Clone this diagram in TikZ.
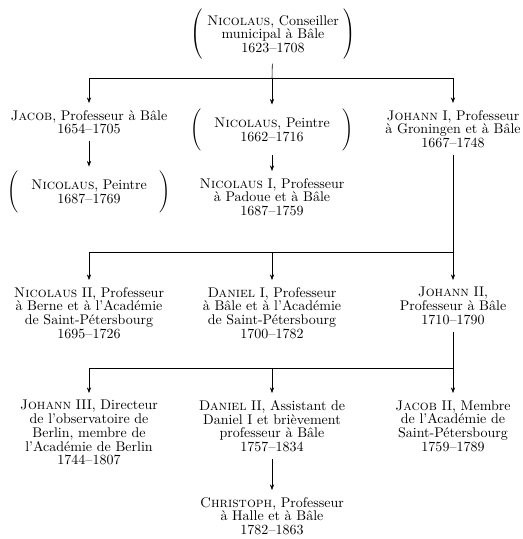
\documentclass[tikz,border=0pt]{standalone}
\usepackage{fontspec}
\usepackage{amsmath}
\usetikzlibrary{arrows.meta}
\newcommand{\enparen}[2]{$\left(\vcenter{\hbox{\rule{0pt}{#1}}}\begin{minipage}{100pt}\centering #2\end{minipage}\right)$}

\begin{document}
\begin{tikzpicture}[>={Stealth[length=4pt,width=3pt]}, x=0.714pt, y=-0.714pt]
\tikzstyle{p}=[align=center,anchor=north,inner xsep=2pt,inner ysep=5pt,font=\fontsize{10}{9.8}\selectfont]
\tikzstyle{pp}=[p,anchor=center,inner ysep=3pt]
\useasboundingbox (0,0) rectangle (522,539);
\node[pp] (nic)   at (273,34)  {\enparen{36pt}{\textsc{Nicolaus}, Conseiller\\ municipal à Bâle\\ 1623--1708}};
\node[p]  (jac)   at (89,103)  {\textsc{Jacob}, Professeur à Bâle\\ 1654--1705};
\node[pp] (nicp)  at (272,130) {\enparen{28pt}{\textsc{Nicolaus}, Peintre\\ 1662--1716}};
\node[p]  (joh)   at (453,103) {\textsc{Johann} I, Professeur\\ à Groningen et à Bâle\\ 1667--1748};
\node[pp] (nicpb) at (89,192)  {\enparen{28pt}{\textsc{Nicolaus}, Peintre\\ 1687--1769}};
\node[p]  (nicI)  at (272,171) {\textsc{Nicolaus} I, Professeur\\ à Padoue et à Bâle\\ 1687--1759};
\node[p]  (nicII) at (89,280)  {\textsc{Nicolaus} II, Professeur\\ à Berne et à l'Académie\\ de Saint-Pétersbourg\\ 1695--1726};
\node[p]  (danI)  at (272,280) {\textsc{Daniel} I, Professeur\\ à Bâle et à l'Académie\\ de Saint-Pétersbourg\\ 1700--1782};
\node[p]  (johII) at (453,280) {\textsc{Johann} II,\\ Professeur à Bâle\\ 1710--1790};
\node[p]  (johIII) at (89,393) {\textsc{Johann} III, Directeur\\ de l'observatoire de\\ Berlin, membre de\\ l'Académie de Berlin\\ 1744--1807};
\node[p]  (danII) at (272,393) {\textsc{Daniel} II, Assistant de\\ Daniel I et brièvement\\ professeur à Bâle\\ 1757--1834};
\node[p]  (jacII) at (453,393) {\textsc{Jacob} II, Membre\\ de l'Académie de\\ Saint-Pétersbourg\\ 1759--1789};
\node[p]  (chr)   at (272,490) {\textsc{Christoph}, Professeur\\ à Halle et à Bâle\\ 1782--1863};
\coordinate (b1) at (272,78);
\coordinate (b2) at (453,252);
\coordinate (b3) at (453,368);
\draw (nic) -- (b1);
\draw[->] (b1) -| (jac); \draw[->] (b1) -- (nicp); \draw[->] (b1) -| (joh);
\draw[->] (jac) -- (nicpb); \draw[->] (nicp) -- (nicI);
\draw (joh) -- (b2);
\draw[->] (b2) -| (nicII); \draw[->] (b2) -| (danI); \draw[->] (b2) -- (johII);
\draw (johII) -- (b3);
\draw[->] (b3) -| (johIII); \draw[->] (b3) -| (danII); \draw[->] (b3) -- (jacII);
\draw[->] (danII) -- (chr);
\end{tikzpicture}
\end{document}
